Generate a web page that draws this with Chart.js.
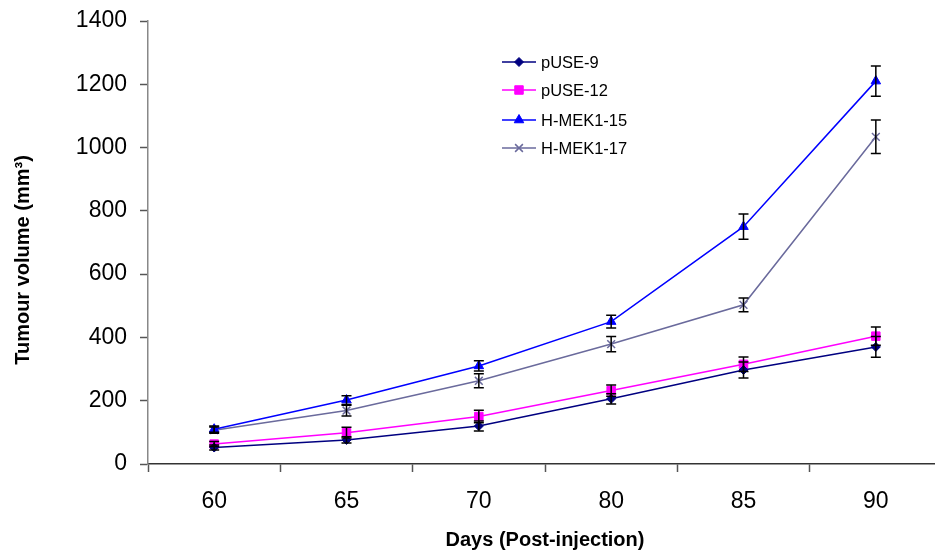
<!DOCTYPE html>
<html>
<head>
<meta charset="utf-8">
<script src="https://cdn.jsdelivr.net/npm/chart.js@4/dist/chart.umd.min.js"></script>
<style>
  html, body { margin: 0; padding: 0; background: #fff; overflow: hidden; }
</style>
</head>
<body>
<canvas id="chrt" width="950" height="550"></canvas>
<script>
// data
let days = ['60', '65', '70', '80', '85', '90'];
let puse9 = [52, 76, 120, 206, 297, 370];
let puse12 = [63, 99, 150, 232, 315, 404];
let hmek15 = [110, 202, 310, 450, 750, 1210];
let hmek17 = [107, 169, 263, 379, 503, 1034];
let puse9Err = [8, 10, 16, 16, 25, 33];
let puse12Err = [8, 17, 20, 18, 23, 29];
let hmek15Err = [10, 14, 16, 20, 40, 48];
let hmek17Err = [10, 17, 22, 24, 22, 53];

let font = "'Liberation Sans', Arial, sans-serif";
let yTitle = 'Tumour volume (mm³)';

function series(label, data, err, color, style, r) {
    return {
        label: label,
        data: data,
        err: err,
        borderColor: color,
        backgroundColor: color,
        borderWidth: 1.5,
        pointStyle: style,
        pointRadius: r,
        pointBorderWidth: style === 'crossRot' ? 1.5 : 1,
        pointBorderColor: color,
        pointBackgroundColor: color,
        tension: 0
    };
}

let errorBars = {
    id: 'errorBars',
    afterDatasetsDraw(chart) {
        let ctx = chart.ctx;
        let y = chart.scales.y;
        ctx.save();
        ctx.strokeStyle = '#000';
        ctx.lineWidth = 1.5;
        chart.data.datasets.forEach((ds, i) => {
            let meta = chart.getDatasetMeta(i);
            meta.data.forEach((pt, j) => {
                let e = ds.err[j];
                let v = ds.data[j];
                let top = y.getPixelForValue(v + e);
                let bot = y.getPixelForValue(v - e);
                ctx.beginPath();
                ctx.moveTo(pt.x, top); ctx.lineTo(pt.x, bot);
                ctx.moveTo(pt.x - 5, top); ctx.lineTo(pt.x + 5, top);
                ctx.moveTo(pt.x - 5, bot); ctx.lineTo(pt.x + 5, bot);
                ctx.stroke();
            });
        });
        ctx.restore();
    }
};

// legend inside the plot and the y title, which sits a bit below centre
let legendBox = {
    id: 'legendBox',
    afterDraw(chart) {
        let ctx = chart.ctx;
        let rows = [62, 90, 120, 148];
        ctx.save();
        chart.data.datasets.forEach((ds, i) => {
            let yy = rows[i];
            ctx.strokeStyle = ds.borderColor;
            ctx.lineWidth = 1.5;
            ctx.beginPath();
            ctx.moveTo(502, yy); ctx.lineTo(536, yy);
            ctx.stroke();
            ctx.fillStyle = ds.backgroundColor;
            ctx.lineWidth = ds.pointBorderWidth;
            Chart.helpers.drawPoint(ctx, { pointStyle: ds.pointStyle, radius: ds.pointRadius, rotation: 0, borderWidth: ds.pointBorderWidth }, 519, yy);
            ctx.fillStyle = '#000';
            ctx.font = '16.5px ' + font;
            ctx.textBaseline = 'middle';
            ctx.textAlign = 'left';
            ctx.fillText(ds.label, 541, yy + 1);
        });
        ctx.translate(23, 260);
        ctx.rotate(-Math.PI / 2);
        ctx.font = 'bold 20px ' + font;
        ctx.textAlign = 'center';
        ctx.textBaseline = 'middle';
        ctx.fillText(yTitle, 0, 0);
        ctx.restore();
    }
};

let chrt = document.getElementById('chrt').getContext('2d');
let myChart = new Chart(chrt, {
    type: 'line',
    data: {
        labels: days,
        datasets: [
            series('pUSE-9', puse9, puse9Err, '#000080', 'rectRot', 4.5),
            series('pUSE-12', puse12, puse12Err, '#ff00ff', 'rect', 6),
            series('H-MEK1-15', hmek15, hmek15Err, '#0000ff', 'triangle', 5.5),
            series('H-MEK1-17', hmek17, hmek17Err, '#6a6a9c', 'crossRot', 5.5)
        ]
    },
    options: {
        responsive: false,
        animation: false,
        layout: { padding: { left: 6, right: 8, top: 21, bottom: 0 } },
        plugins: {
            legend: { display: false },
            tooltip: { enabled: false }
        },
        scales: {
            x: {
                offset: true,
                afterFit: s => { s.height = 86; s.paddingLeft = 0; s.paddingRight = 0; },
                grid: { offset: true, drawOnChartArea: false, tickLength: 8, color: '#555', tickWidth: 1.5 },
                border: { color: '#333', width: 1.5 },
                ticks: { color: '#000', font: { family: font, size: 23 }, padding: 16 },
                title: { display: true, text: 'Days (Post-injection)', color: '#000', font: { family: font, size: 20, weight: 'bold' }, padding: { top: 0, bottom: -2 } }
            },
            y: {
                min: 0,
                max: 1400,
                afterFit: s => { s.width = 142; s.paddingTop = 0; s.paddingBottom = 0; },
                grid: { drawOnChartArea: false, tickLength: 8, color: '#555', tickWidth: 1.5 },
                border: { color: '#888', width: 1.5 },
                ticks: { stepSize: 200, color: '#000', font: { family: font, size: 23 }, padding: 13, callback: v => String(v) },
                title: { display: false }
            }
        }
    },
    plugins: [errorBars, legendBox]
});
</script>
</body>
</html>
